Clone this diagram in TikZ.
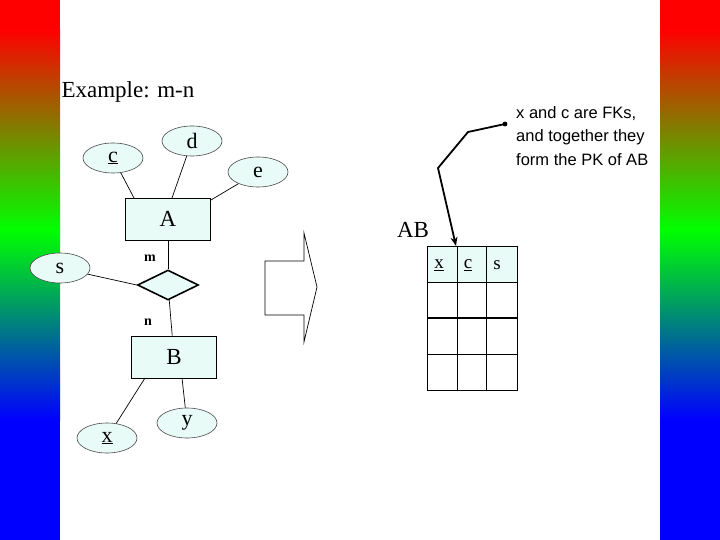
\documentclass[tikz,border=0pt]{standalone}
\usepackage{fontspec}
\setmainfont{Liberation Serif}
\newfontfamily\arialf{Liberation Sans}
\usetikzlibrary{shapes.geometric,arrows.meta}
\definecolor{lc}{HTML}{E8FBF6}
\begin{document}
\begin{tikzpicture}[x=1pt,y=-1pt,
  attr/.style={ellipse,draw=black!70,line width=0.6pt,fill=lc,minimum width=60pt,minimum height=30pt,inner sep=0pt,font=\fontsize{22}{22}\selectfont},
  ent/.style={rectangle,draw,line width=0.7pt,fill=lc,minimum width=85pt,minimum height=42pt,font=\fontsize{23}{23}\selectfont},
  rel/.style={diamond,draw,line width=1.6pt,fill=lc,minimum width=61pt,minimum height=30pt,inner sep=0pt},
  card/.style={font=\bfseries\fontsize{14}{14}\selectfont},
  conn/.style={draw,line width=0.7pt}]
\useasboundingbox (0,0) rectangle (720,540);
\fill[white] (0,0) rectangle (720,540);
\foreach \xx in {0,660}{
  \fill[red] (\xx,0) rectangle (\xx+60,30);
  \shade[top color=red,bottom color=green] (\xx,29.5) rectangle (\xx+60,230);
  \shade[top color=green,bottom color=blue] (\xx,229.5) rectangle (\xx+60,420);
  \fill[blue] (\xx,419.5) rectangle (\xx+60,540);
}
\node[anchor=west,font=\fontsize{23}{23}\selectfont] (title) at (58,92) {Example: m-n};
\node[ent] (A) at (168,219) {A};
\node[ent] (B) at (174,357) {B};
\node[rel] (R) at (168,285) {};
\node[attr] (c) at (113,158) {\underline{c}};
\node[attr] (d) at (192,141) {d};
\node[attr] (e) at (258,172) {e};
\node[attr] (s) at (60,268) {s};
\node[attr] (x) at (107,438) {\underline{x}};
\node[attr] (y) at (187,423) {y};
\node[card] (m) at (150,258) {m};
\node[card] (n) at (148,322) {n};
\coordinate (ca) at (134,198); \coordinate (da) at (172,198); \coordinate (ea) at (211,200);
\coordinate (bx) at (145,378); \coordinate (by) at (182,378);
\draw[conn] (c) -- (ca); \draw[conn] (d) -- (da); \draw[conn] (e) -- (ea);
\draw[conn] (A) -- (R); \draw[conn] (R) -- (B); \draw[conn] (s) -- (R.west);
\draw[conn] (bx) -- (x); \draw[conn] (by) -- (y);
% block arrow
\draw[line width=0.7pt,fill=white] (265,261) -- (304,261) -- (304,233) -- (317,287) -- (304,342) -- (304,315) -- (265,315) -- cycle;
% table
\fill[lc] (427,246) rectangle (517,282);
\draw[line width=0.7pt] (427,246) rectangle (517,390);
\foreach \cx in {457,486} \draw[line width=0.7pt] (\cx,246) -- (\cx,390);
\foreach \ry in {282,354} \draw[line width=0.7pt] (427,\ry) -- (517,\ry);
\draw[line width=1.4pt] (427,318) -- (517,318);
\node[font=\fontsize{19}{19}\selectfont] (tx) at (439,265) {\underline{x}};
\node[font=\fontsize{19}{19}\selectfont] (tc) at (468,265) {\underline{c}};
\node[font=\fontsize{19}{19}\selectfont] (ts) at (497,265) {s};
\node[font=\fontsize{23}{23}\selectfont] (AB) at (413,230) {AB};
\node[anchor=north west,align=left,font=\arialf\fontsize{16.5}{23.5}\selectfont,inner sep=0pt] (note) at (516,106) {x and c are FKs,\\and together they\\form the PK of AB};
\coordinate (p0) at (505,124);
\coordinate (tgt) at (456,246);
\fill (p0) circle (2.4pt);
\draw[line width=1.8pt,-{Stealth[length=9pt,width=7pt]}] (p0) -- (468,132) -- (438,168) -- (tgt);
\end{tikzpicture}
\end{document}
